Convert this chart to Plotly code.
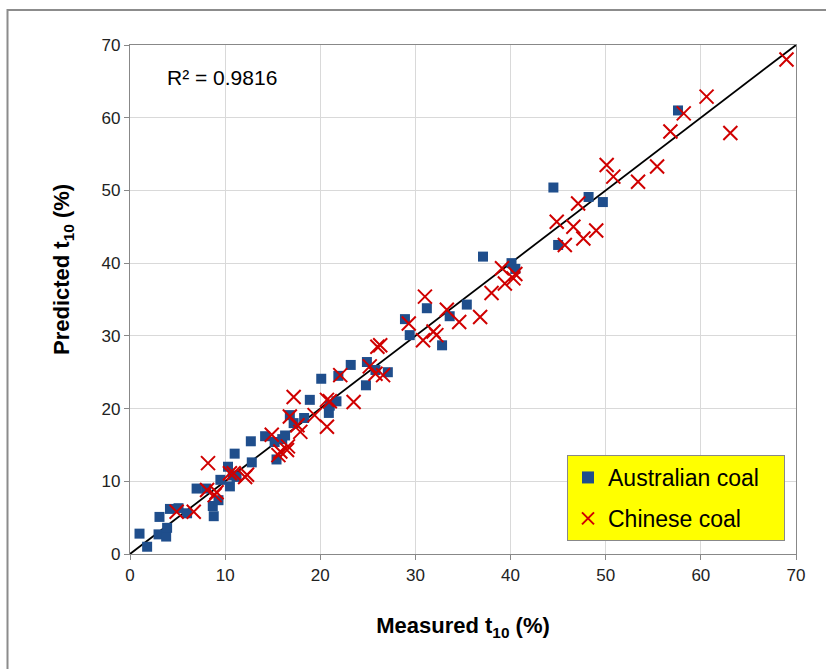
import plotly.graph_objects as go

aus_x = [1.0, 1.8, 3.1, 3.0, 3.8, 3.9, 4.2, 5.1, 6.0, 7.0, 8.0, 8.7, 8.8, 9.3, 9.5, 10.3, 10.5, 10.8,
         11.0, 11.2, 12.7, 12.8, 14.2, 15.4, 15.2, 16.0, 16.3, 16.8, 17.2, 18.3, 18.9, 20.1, 20.9, 21.0,
         21.7, 21.9, 23.2, 24.8, 24.9, 25.8, 27.1, 28.9, 29.4, 31.2, 32.8, 33.6, 35.4, 37.1, 40.1, 40.5,
         44.5, 45.0, 48.2, 49.7, 57.6]
aus_y = [2.8, 1.0, 5.1, 2.7, 2.4, 3.6, 6.2, 6.3, 5.6, 9.0, 9.0, 6.6, 5.2, 7.4, 10.2, 12.0, 9.3, 10.8,
         13.8, 10.6, 15.5, 12.6, 16.2, 13.0, 15.4, 15.8, 16.3, 19.1, 18.0, 18.7, 21.2, 24.1, 19.4, 20.4,
         21.0, 24.5, 26.0, 23.2, 26.4, 25.3, 25.0, 32.3, 30.1, 33.8, 28.7, 32.7, 34.3, 40.9, 40.0, 39.2,
         50.4, 42.5, 49.1, 48.4, 61.0]

chn_x = [4.9, 6.7, 8.1, 8.2, 8.9, 9.1, 10.5, 10.9, 12.1, 12.3, 14.9, 15.6, 15.8, 16.5, 16.6, 16.8,
         17.2, 17.6, 17.9, 19.4, 20.7, 20.7, 21.0, 22.1, 23.5, 25.2, 25.8, 26.0, 26.3, 26.6, 29.3, 30.8,
         31.0, 31.9, 32.2, 33.3, 34.6, 36.8, 38.0, 39.1, 39.4, 40.3, 40.5, 44.85, 45.7, 46.6, 47.1, 47.65,
         49.0, 50.1, 50.8, 53.4, 55.4, 56.8, 58.2, 60.6, 63.1, 69.0]
chn_y = [5.8, 5.8, 8.8, 12.5, 8.1, 8.5, 11.1, 11.1, 10.6, 10.9, 16.4, 13.6, 14.1, 14.3, 14.8, 18.9,
         21.6, 17.7, 16.8, 19.1, 17.5, 21.2, 21.0, 24.6, 20.9, 25.8, 24.8, 28.5, 28.7, 24.6, 31.7, 29.4,
         35.4, 30.6, 30.1, 33.6, 31.9, 32.6, 35.9, 39.3, 37.2, 37.9, 38.5, 45.7, 42.5, 45.0, 48.2, 43.4,
         44.5, 53.5, 51.9, 51.2, 53.3, 58.1, 60.6, 62.9, 57.9, 68.0]

fit_x = [0, 70]
fit_y = [0, 70]

x_ticks = [0, 10, 20, 30, 40, 50, 60, 70]
y_ticks = [0, 10, 20, 30, 40, 50, 60, 70]

fig = go.Figure()
fig.add_trace(go.Scatter(x=fit_x, y=fit_y, mode="lines", line=dict(color="black", width=1.8),
                         showlegend=False, hoverinfo="skip"))
fig.add_trace(go.Scatter(x=aus_x, y=aus_y, mode="markers", name="Australian coal\u00a0\u00a0\u00a0",
                         legendgroup="a",
                         marker=dict(symbol="square", size=10, color="#1F4E8C",
                                     line=dict(color="#1F4E8C", width=0))))
fig.add_trace(go.Scatter(x=chn_x, y=chn_y, mode="markers", name="Chinese coal", legendgroup="c",
                         marker=dict(symbol="x-thin-open", size=14, color="#D00000",
                                     line=dict(color="#D00000", width=2))))

axis_common = dict(
    range=[0, 70], showgrid=True, gridcolor="#D9D9D9", gridwidth=1,
    showline=True, linecolor="#888888", linewidth=1.2,
    ticks="outside", ticklen=5, tickcolor="#888888",
    tickfont=dict(family="Arial, Liberation Sans", size=17, color="#222222"),
    zeroline=False, mirror=True, tickmode="array",
)

fig.update_xaxes(**axis_common, tickvals=x_ticks,
                 title=dict(text="<b>Measured t<sub>10</sub> (%)</b>",
                            font=dict(family="Arial, Liberation Sans", size=22, color="black"),
                            standoff=34))
fig.update_yaxes(**axis_common, tickvals=y_ticks)

fig.add_annotation(x=(63 - 130) / 666, y=(554 - 270) / 509, xref="paper", yref="paper",
                   text="<b>Predicted t<sub>10</sub> (%)</b>", showarrow=False, textangle=-90,
                   xanchor="center", yanchor="middle",
                   font=dict(family="Arial, Liberation Sans", size=22, color="black"))

fig.add_annotation(x=3.7, y=65.5, xref="x", yref="y", text="R² = 0.9816", showarrow=False,
                   xanchor="left", yanchor="middle",
                   font=dict(family="Arial, Liberation Sans", size=21, color="black"))

# outer chart border
fig.add_shape(type="rect", xref="paper", yref="paper",
              x0=(7.5 - 130) / 666, x1=(840 - 130) / 666,
              y0=(554 - 690) / 509, y1=(554 - 10) / 509,
              line=dict(color="#8C8C8C", width=2), fillcolor="rgba(0,0,0,0)", layer="below")

fig.update_layout(
    width=826, height=669,
    margin=dict(l=130, r=30, t=45, b=115),
    paper_bgcolor="white", plot_bgcolor="white",
    showlegend=True,
    legend=dict(x=(567 - 130) / 666, y=(554 - 455) / 509, xanchor="left", yanchor="top",
                bgcolor="#FFFF00", bordercolor="#888888", borderwidth=1,
                font=dict(family="Arial, Liberation Sans", size=23, color="black"),
                itemsizing="constant", tracegroupgap=8, itemwidth=30, traceorder="grouped"),
)

fig.write_html("out.html")
